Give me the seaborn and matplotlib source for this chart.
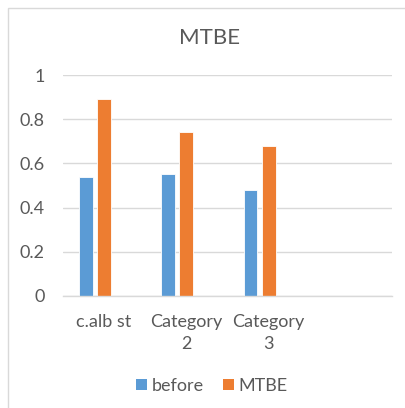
import matplotlib
matplotlib.use("Agg")
import matplotlib.pyplot as plt
from matplotlib.patches import Patch, Rectangle
import seaborn as sns
import pandas as pd

# Chart data
categories = ["c.alb st", "Category 2", "Category 3"]
tick_labels = ["c.alb st", "Category\n2", "Category\n3"]
series_names = ["before", "MTBE"]
before = [0.54, 0.55, 0.48]
mtbe = [0.89, 0.74, 0.68]
y_ticks = [0, 0.2, 0.4, 0.6, 0.8, 1]
y_tick_labels = ["0", "0.2", "0.4", "0.6", "0.8", "1"]

df = pd.DataFrame({
    "category": categories * 2,
    "series": [series_names[0]] * 3 + [series_names[1]] * 3,
    "value": before + mtbe,
})

sns.set_style("white")
plt.rcParams["font.family"] = ["Lato", "DejaVu Sans"]

text_color = "#595959"
grid_color = "#D9D9D9"
colors = {"before": "#5B9BD5", "MTBE": "#ED7D31", "Series3": "#A5A5A5"}

fig = plt.figure(figsize=(4.06, 4.08), dpi=100)
fig.patch.set_facecolor("white")

# outer chart frame
fig.patches.append(Rectangle((8 / 406, -0.1), 1.2, (408 - 8) / 408 + 0.1,
                             transform=fig.transFigure, fill=False,
                             edgecolor="#D9D9D9", linewidth=1.0))

ax = fig.add_axes([63 / 406, (408 - 296) / 408, (392 - 63) / 406, 221 / 408])

sns.barplot(data=df, x="category", y="value", hue="series",
            order=categories + ["_empty"],
            hue_order=series_names + ["Series3"],
            palette=colors, saturation=1, width=0.66, gap=0.23,
            edgecolor="white", linewidth=0.6,
            legend=False, errorbar=None, ax=ax)

ax.set_xlim(-0.5, 3.5)
ax.set_ylim(0, 1)
ax.set_yticks(y_ticks)
ax.set_yticklabels(y_tick_labels)
ax.set_xticks([0, 1, 2, 3])
ax.set_xticklabels(tick_labels + [""], multialignment="center", linespacing=1.45)
ax.set_xlabel("")
ax.set_ylabel("")

ax.grid(axis="y", color=grid_color, linewidth=1.0)
ax.set_axisbelow(True)
for side in ["left", "right", "top"]:
    ax.spines[side].set_visible(False)
ax.spines["bottom"].set_color(grid_color)
ax.spines["bottom"].set_linewidth(1.0)

ax.tick_params(axis="both", length=0, colors=text_color, labelsize=13)
ax.tick_params(axis="y", pad=13)
ax.tick_params(axis="x", pad=13)

fig.text(210 / 406, 1 - 38 / 408, "MTBE", ha="center", va="center",
         fontsize=16, color=text_color)

handles = [Patch(facecolor=colors[n], edgecolor="none") for n in series_names]
fig.legend(handles, series_names, loc="center", bbox_to_anchor=(212 / 406, 1 - 386 / 408),
           ncol=2, frameon=False, fontsize=13, handlelength=0.6, handleheight=0.6,
           handletextpad=0.25, columnspacing=1.1, labelcolor=text_color)

fig.savefig("out.png", dpi=100, facecolor="white")
